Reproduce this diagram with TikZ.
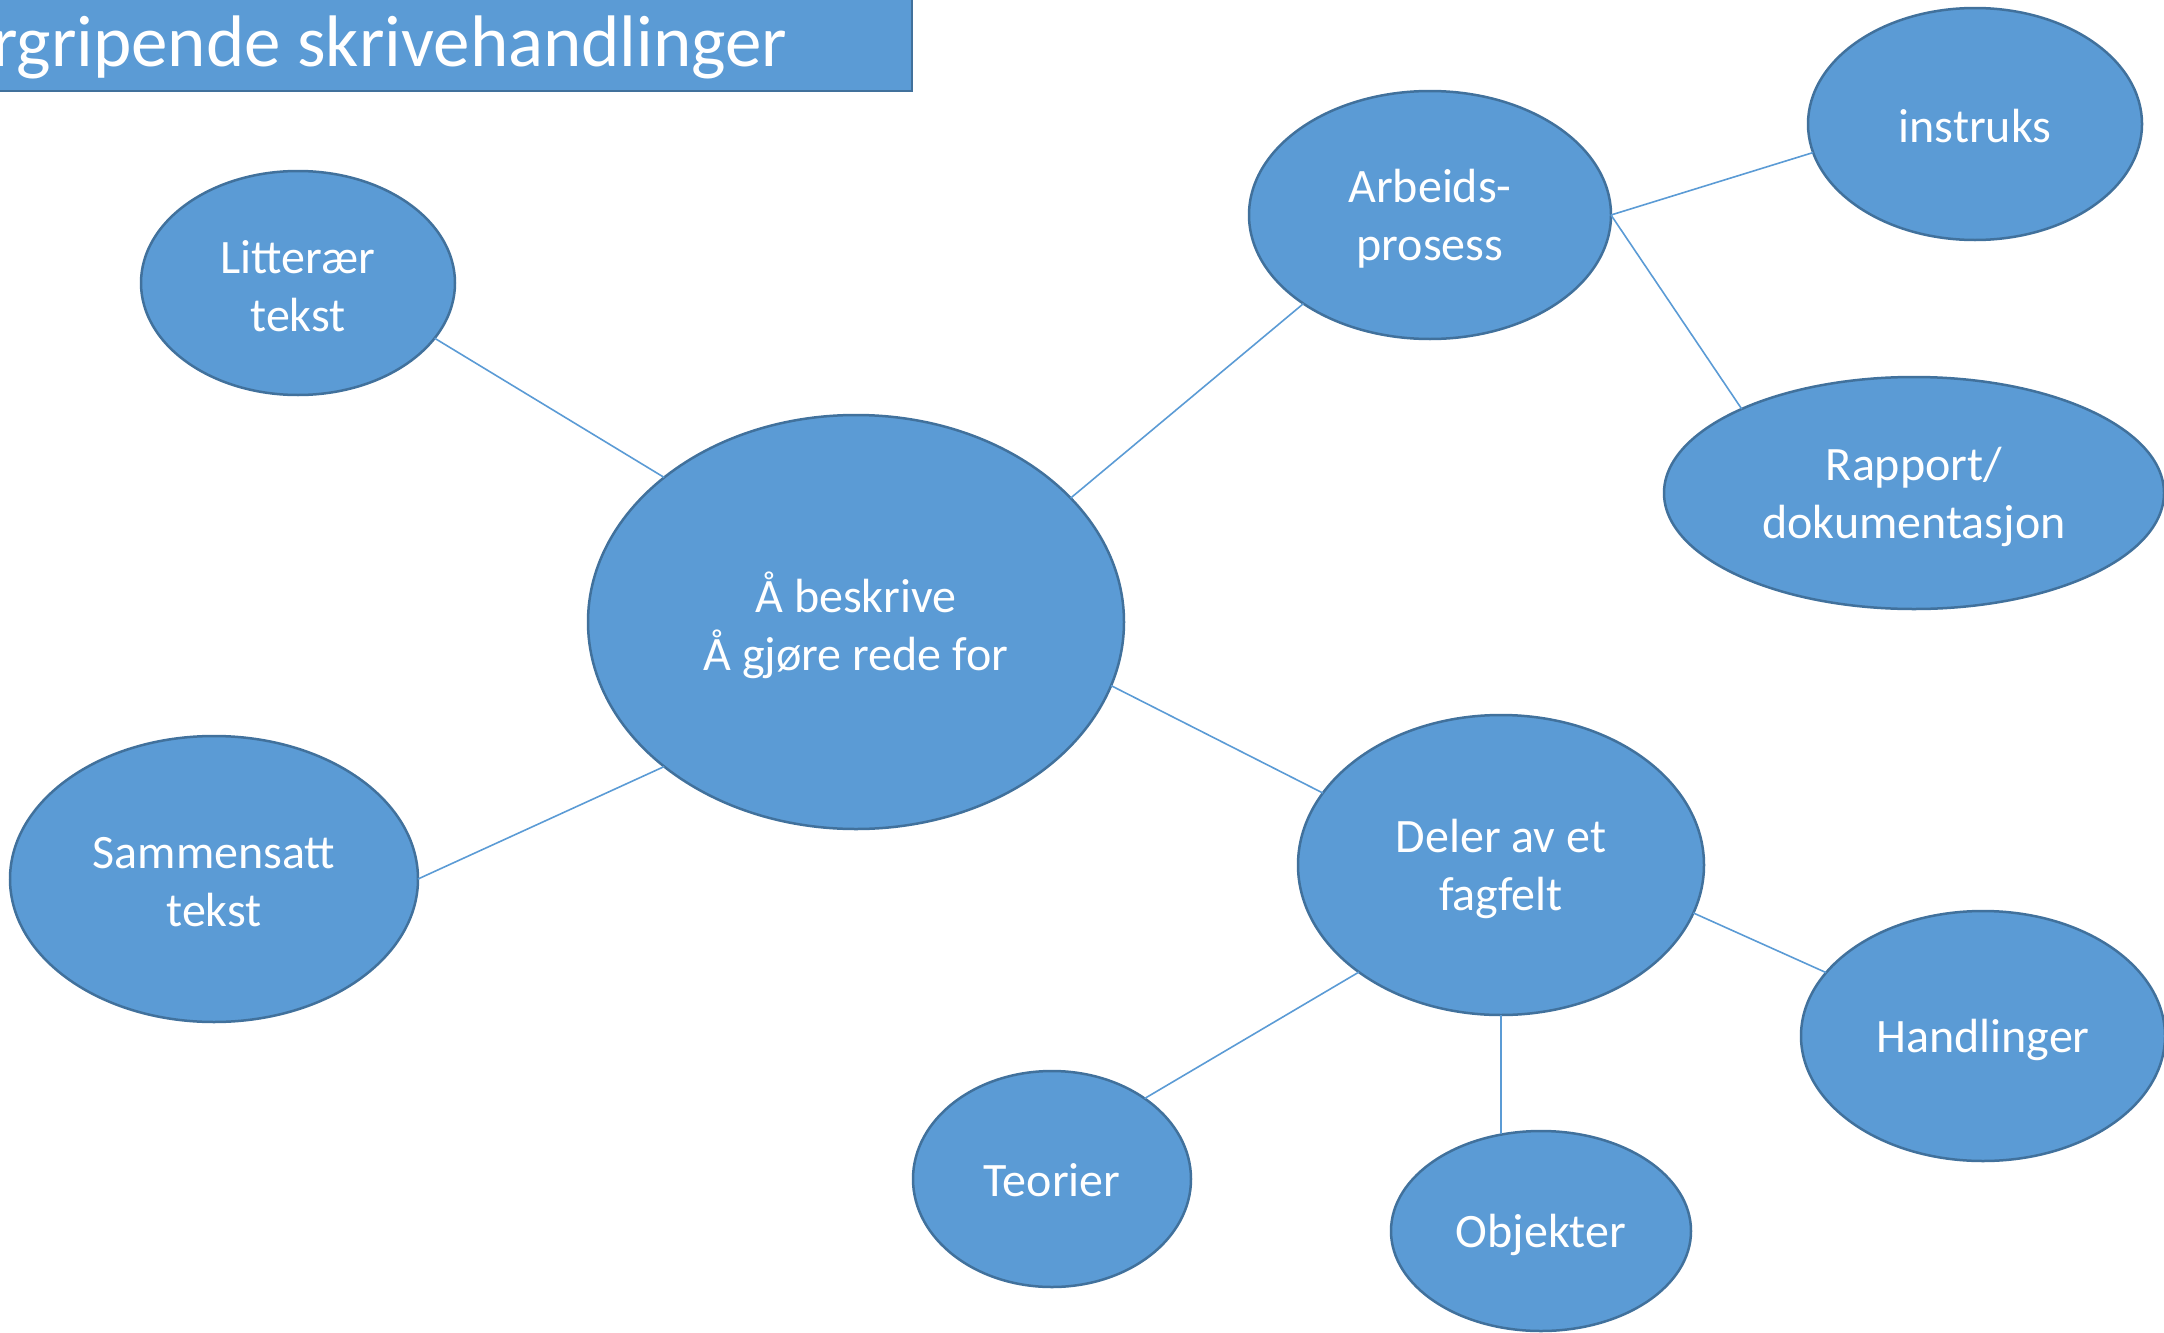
\documentclass[tikz,border=0pt]{standalone}
\usepackage{fontspec}
\setmainfont{Carlito}
\usetikzlibrary{shapes.geometric}
\definecolor{bubblefill}{HTML}{5B9BD5}
\definecolor{bubbleedge}{HTML}{41719C}
\definecolor{linkcol}{HTML}{5B9BD5}
\tikzset{
  bubble/.style={ellipse, fill=bubblefill, draw=bubbleedge, line width=2.5pt,
    inner sep=0pt, outer sep=0pt, text=white, align=center,
    font=\fontsize{48}{58}\selectfont},
  btext/.style={text=white, align=center, inner sep=0pt,
    font=\fontsize{48}{58}\selectfont},
  link/.style={draw=linkcol, line width=1.6pt},
  titlebox/.style={fill=bubblefill, draw=bubbleedge, line width=2.5pt}
}
\newcommand{\bub}[6]{%
  \node[bubble, minimum width=#3, minimum height=#4] (#1) at (#2) {};
  \node[btext] (#1t) at ([yshift=-#6]#1.center) {#5};
}
\begin{document}
\begin{tikzpicture}[x=1pt,y=-1pt]
\useasboundingbox (0,0) rectangle (2164,1333);
% title
\draw[titlebox] (-10,-10) rectangle (912,91);
\node[anchor=base west, inner sep=0pt, text=white, font=\fontsize{73}{84}\selectfont] (title) at (-8,66) {rgripende skrivehandlinger};
% nodes
\bub{c}{856,622}{536}{414}{Å beskrive\\Å gjøre rede for}{3pt}
\bub{lit}{298,283}{314}{224}{Litterær\\tekst}{3pt}
\bub{sam}{214,879}{408}{286}{Sammensatt\\tekst}{3pt}
\bub{arb}{1430,215}{362}{248}{Arbeids-\\prosess}{4pt}
\bub{ins}{1975,124}{334}{232}{instruks}{2pt}
\bub{rap}{1914,493}{500}{232}{Rapport/\\dokumentasjon}{4pt}
\bub{del}{1501,865}{406}{300}{Deler av et\\fagfelt}{4pt}
\bub{han}{1983,1036}{364}{250}{Handlinger}{4pt}
\bub{teo}{1052,1179}{278}{216}{Teorier}{1pt}
\bub{obj}{1541,1231}{300}{200}{Objekter}{4pt}
% connectors
\draw[link] (lit.-22) -- (c.143);
\draw[link] (sam.0) -- (c.217);
\draw[link] (c.30) -- (arb.215);
\draw[link] (c.-14) -- (del.158.6);
\draw[link] (arb.0) -- (ins.190.5);
\draw[link] (arb.0) -- (rap.154.5);
\draw[link] (del.-14.4) -- (han.158.7);
\draw[link] (del.217) -- (teo.41);
\draw[link] (del.south) -- (obj.112.5 -| del.south);
\end{tikzpicture}
\end{document}
